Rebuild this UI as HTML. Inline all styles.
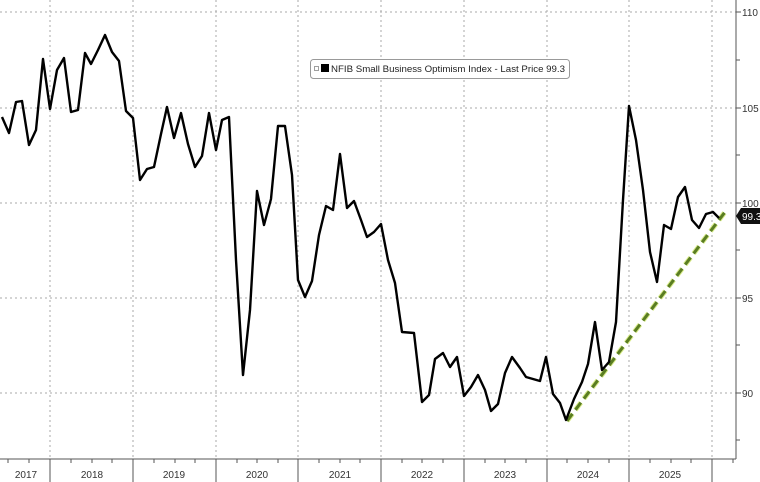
<!DOCTYPE html>
<html><head><meta charset="utf-8"><style>
html,body{margin:0;padding:0;background:#fff;}
svg{display:block;font-family:"Liberation Sans",sans-serif;}
</style></head><body>
<svg width="760" height="482" viewBox="0 0 760 482" xmlns="http://www.w3.org/2000/svg">
<rect width="760" height="482" fill="#fff"/>
<g stroke="#aaa" stroke-width="1" stroke-dasharray="2,3">
<line x1="0" y1="12" x2="736" y2="12"/>
<line x1="0" y1="108" x2="736" y2="108"/>
<line x1="0" y1="203" x2="736" y2="203"/>
<line x1="0" y1="298" x2="736" y2="298"/>
<line x1="0" y1="393" x2="736" y2="393"/>
<line x1="50" y1="0" x2="50" y2="459"/>
<line x1="133" y1="0" x2="133" y2="459"/>
<line x1="216" y1="0" x2="216" y2="459"/>
<line x1="298" y1="0" x2="298" y2="459"/>
<line x1="381" y1="0" x2="381" y2="459"/>
<line x1="464" y1="0" x2="464" y2="459"/>
<line x1="547" y1="0" x2="547" y2="459"/>
<line x1="629" y1="0" x2="629" y2="459"/>
<line x1="712" y1="0" x2="712" y2="459"/>
</g>
<g stroke="#555" stroke-width="1">
<line x1="0" y1="459" x2="736" y2="459"/>
<line x1="736" y1="0" x2="736" y2="459"/>
<line x1="50" y1="459" x2="50" y2="482"/>
<line x1="133" y1="459" x2="133" y2="482"/>
<line x1="216" y1="459" x2="216" y2="482"/>
<line x1="298" y1="459" x2="298" y2="482"/>
<line x1="381" y1="459" x2="381" y2="482"/>
<line x1="464" y1="459" x2="464" y2="482"/>
<line x1="547" y1="459" x2="547" y2="482"/>
<line x1="629" y1="459" x2="629" y2="482"/>
<line x1="712" y1="459" x2="712" y2="482"/>
<line x1="736" y1="12" x2="741" y2="12"/><line x1="736" y1="60" x2="740" y2="60"/>
<line x1="736" y1="108" x2="741" y2="108"/><line x1="736" y1="155" x2="740" y2="155"/>
<line x1="736" y1="203" x2="741" y2="203"/><line x1="736" y1="250" x2="740" y2="250"/>
<line x1="736" y1="298" x2="741" y2="298"/><line x1="736" y1="345" x2="740" y2="345"/>
<line x1="736" y1="393" x2="741" y2="393"/><line x1="736" y1="440" x2="740" y2="440"/>
</g>
<g stroke="#555" stroke-width="1">
<line x1="8" y1="459" x2="8" y2="463"/><line x1="29" y1="459" x2="29" y2="463"/>
<line x1="71" y1="459" x2="71" y2="463"/><line x1="92" y1="459" x2="92" y2="463"/><line x1="112" y1="459" x2="112" y2="463"/>
<line x1="154" y1="459" x2="154" y2="463"/><line x1="175" y1="459" x2="175" y2="463"/><line x1="195" y1="459" x2="195" y2="463"/>
<line x1="237" y1="459" x2="237" y2="463"/><line x1="257" y1="459" x2="257" y2="463"/><line x1="278" y1="459" x2="278" y2="463"/>
<line x1="319" y1="459" x2="319" y2="463"/><line x1="340" y1="459" x2="340" y2="463"/><line x1="360" y1="459" x2="360" y2="463"/>
<line x1="402" y1="459" x2="402" y2="463"/><line x1="422" y1="459" x2="422" y2="463"/><line x1="443" y1="459" x2="443" y2="463"/>
<line x1="485" y1="459" x2="485" y2="463"/><line x1="505" y1="459" x2="505" y2="463"/><line x1="526" y1="459" x2="526" y2="463"/>
<line x1="567" y1="459" x2="567" y2="463"/><line x1="588" y1="459" x2="588" y2="463"/><line x1="609" y1="459" x2="609" y2="463"/>
<line x1="650" y1="459" x2="650" y2="463"/><line x1="671" y1="459" x2="671" y2="463"/><line x1="691" y1="459" x2="691" y2="463"/>
<line x1="733" y1="459" x2="733" y2="463"/>
</g>
<g font-size="10" fill="#333">
<text x="742" y="16">110</text><text x="742" y="112">105</text>
<text x="742" y="207">100</text><text x="742" y="302">95</text><text x="742" y="397">90</text>
</g>
<g font-size="10" fill="#333" text-anchor="middle">
<text x="26" y="478">2017</text><text x="92" y="478">2018</text><text x="174" y="478">2019</text>
<text x="257" y="478">2020</text><text x="340" y="478">2021</text><text x="422" y="478">2022</text>
<text x="505" y="478">2023</text><text x="588" y="478">2024</text><text x="670" y="478">2025</text>
</g>
<line x1="567" y1="421" x2="725" y2="212" stroke="#d8eb8a" stroke-width="5" stroke-dasharray="9,5"/>
<line x1="567" y1="421" x2="725" y2="212" stroke="#5a7d22" stroke-width="3" stroke-dasharray="9,5"/>
<polyline fill="none" stroke="#000" stroke-width="2.4" stroke-linejoin="round" points="2,117 9,133 16,102 22,101 29,145 36,130 43,59 50,109 57,70 64,58 71,112 78,110 85,53 91,64 98,50 105,35 112,52 119,61 126,111 133,118 140,180 147,169 154,167 161,134 167,107 174,138 181,113 188,144 195,167 202,156 209,113 216,150 222,120 229,117 236,260 243,375 250,310 257,191 264,225 271,199 278,126 285,126 292,175 298,280 305,297 312,281 319,235 326,206 333,210 340,154 347,208 354,201 361,220 367,237 374,232 381,224 388,260 395,283 402,332 414,333 422,402 429,395 435,359 443,353 450,367 457,357 464,396 471,387 478,375 485,390 491,411 498,404 505,373 512,357 520,368 526,377 540,381 546,357 553,394 560,403 566,420 574,399 582,382 588,364 595,322 602,370 609,362 616,322 623,200 629,106 636,140 643,190 650,252 657,282 664,225 671,229 678,197 685,187 692,220 699,228 706,214 713,212 719,218"/>
<polygon points="736,216 741,208 760,208 760,224 741,224" fill="#111"/>
<text x="742" y="220" font-size="10" fill="#fff">99.3</text>
<rect x="310.5" y="59.5" width="259" height="19" rx="3" fill="#fff" stroke="#999"/>
<rect x="314.5" y="66.5" width="4" height="4" fill="none" stroke="#888" stroke-width="0.8"/>
<rect x="321" y="64" width="8" height="8" fill="#000"/>
<text x="331" y="72" font-size="9.5" fill="#222" textLength="234" lengthAdjust="spacingAndGlyphs">NFIB Small Business Optimism Index - Last Price 99.3</text>
</svg>
</body></html>
